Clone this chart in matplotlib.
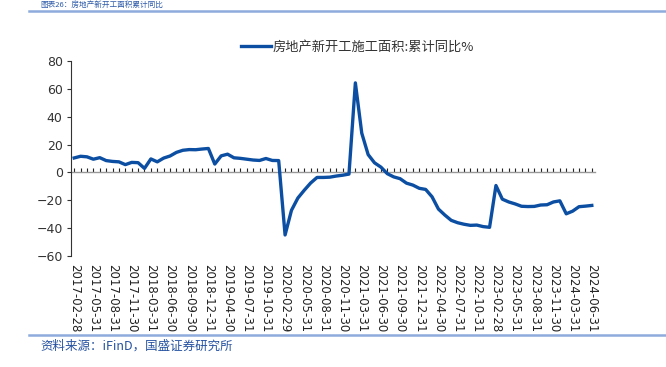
import matplotlib.pyplot as plt
from matplotlib.lines import Line2D

plt.rcParams['font.family'] = ['DejaVu Sans', 'Noto Sans CJK SC']

# monthly cumulative yoy, Jan skipped (Jan-Feb reported together)
months = []
for yr in range(2017, 2025):
    last = 6 if yr == 2024 else 12
    for m in range(2, last + 1):
        months.append('%d-%02d' % (yr, m))

values = [
    10.4, 11.6, 11.2, 9.5, 10.6, 8.5, 7.9, 7.6, 5.6, 7.2, 7.0,          # 2017
    2.9, 9.7, 7.6, 10.3, 11.8, 14.4, 15.9, 16.4, 16.3, 16.8, 17.2,      # 2018
    6.0, 11.9, 13.1, 10.5, 10.1, 9.5, 8.9, 8.6, 10.0, 8.6, 8.5,         # 2019
    -44.9, -27.2, -18.4, -12.8, -7.6, -3.6, -3.6, -3.4, -2.6, -2.0, -1.2,  # 2020
    64.3, 28.2, 12.8, 6.9, 3.8, -0.9, -3.2, -4.5, -7.7, -9.1, -11.4,    # 2021
    -12.2, -17.5, -26.3, -30.6, -34.4, -36.1, -37.2, -38.0, -37.8, -38.9, -39.4,  # 2022
    -9.4, -19.2, -21.2, -22.6, -24.3, -24.5, -24.4, -23.4, -23.2, -21.2, -20.4,   # 2023
    -29.7, -27.8, -24.6, -24.2, -23.7,                                  # 2024
]

tick_labels = [
    '2017-02-28', '2017-05-31', '2017-08-31', '2017-11-30', '2018-03-31',
    '2018-06-30', '2018-09-30', '2018-12-31', '2019-04-30', '2019-07-31',
    '2019-10-31', '2020-02-29', '2020-05-31', '2020-08-31', '2020-11-30',
    '2021-03-31', '2021-06-30', '2021-09-30', '2021-12-31', '2022-04-30',
    '2022-07-31', '2022-10-31', '2023-02-28', '2023-05-31', '2023-08-31',
    '2023-11-30', '2024-03-31', '2024-06-31',
]

series_name = '房地产新开工施工面积:累计同比%'

x = list(range(len(values)))
blue = '#0B4EA2'
frame = '#8FAADC'

fig = plt.figure(figsize=(6.66, 3.67), dpi=100)
ax = fig.add_axes([71 / 666, 1 - 256 / 367, 524 / 666, 195 / 367])

ax.plot(x, values, color=blue, lw=2.4, solid_joinstyle='round', zorder=3)
ax.set_xlim(-0.5, len(values) - 0.5)
ax.set_ylim(-60, 80)
ax.set_yticks(range(-60, 81, 20))

for s in ['top', 'right', 'bottom']:
    ax.spines[s].set_visible(False)
ax.spines['left'].set_color('#333333')
ax.spines['left'].set_linewidth(0.8)

ax.set_xticks(x[::3])
ax.set_xticklabels(tick_labels, rotation=-90, fontsize=8.5, color='#222222')
ax.tick_params(axis='x', length=0, pad=6)
ax.tick_params(axis='y', direction='out', length=3, width=0.8, pad=3,
               labelsize=9, labelcolor='#333333', color='#333333')

# zero line with a tick on every month
sec = ax.secondary_xaxis(60 / 140)
sec.set_xticks(x)
sec.tick_params(direction='in', length=3, width=0.8, color='#222222',
                labelbottom=False)
sec.spines['bottom'].set_color('#999999')
sec.spines['bottom'].set_linewidth(1.0)

handle = Line2D([], [], color=blue, lw=2.4)
fig.legend([handle], [series_name], loc='center', bbox_to_anchor=(0.537, 1 - 47 / 367),
           frameon=False, handlelength=2.3, handletextpad=0.1,
           prop={'family': ['Noto Sans CJK SC'], 'size': 9.5}, labelcolor='#333333')

# report frame
fig.add_artist(Line2D([29 / 666, 1], [1 - 11 / 367] * 2, color=frame, lw=1.8))
fig.add_artist(Line2D([29 / 666, 1], [1 - 335 / 367] * 2, color=frame, lw=1.8))
fig.text(40 / 666, 1 - 0.5 / 367, '图表26：房地产新开工面积累计同比', color='#2E5BA8',
         fontsize=5.5, family=['Noto Sans CJK SC'], va='top')
fig.text(40 / 666, 1 - 346 / 367, '资料来源：iFinD，国盛证券研究所', color='#2552A0',
         fontsize=9, style='italic', family=['Noto Sans CJK SC', 'DejaVu Sans'],
         va='center')

fig.savefig('out.png', dpi=100)
